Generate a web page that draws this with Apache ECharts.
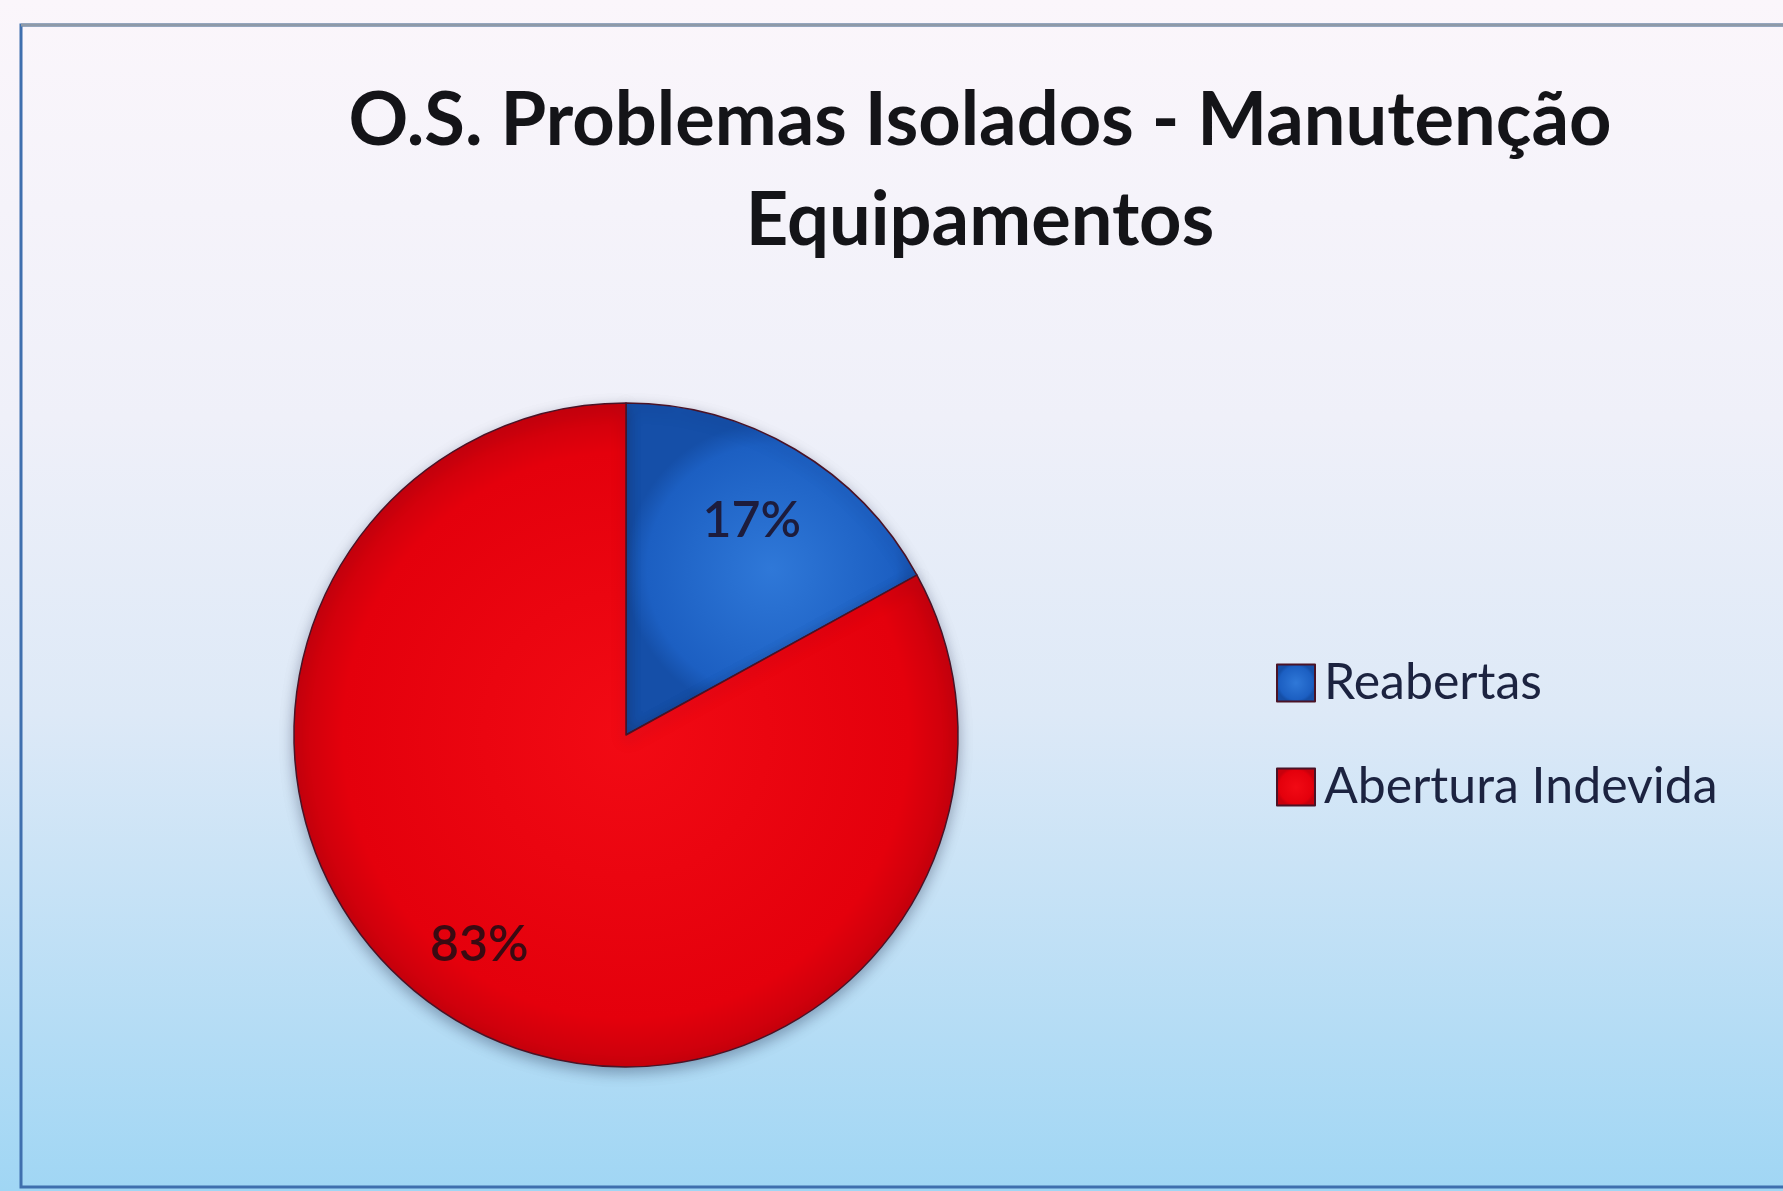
<!DOCTYPE html>
<html lang="pt">
<head>
    <meta charset="utf-8">
    <title>O.S. Problemas Isolados - Manutenção Equipamentos</title>
    <script src="https://cdn.jsdelivr.net/npm/echarts@6/dist/echarts.min.js"></script>
    <style>
        html, body { margin: 0; padding: 0; background: #f6f4f9; }
        #grafico { width: 1783px; height: 1191px; }
    </style>
</head>
<body>
    <div id="grafico"></div>
    <script>
    // dados do gráfico
    var categorias = ['Reabertas', 'Abertura Indevida'];
    var valores = [17, 83];
    var cores = [
        ['#2f78d8', '#1c5fc2', '#154fa8'],
        ['#f20a14', '#e4000c', '#c8000c']
    ];
    var coresRotulos = ['#1d1c3c', '#3a0a12'];

    var myChart = echarts.init(document.getElementById('grafico'));

    var dadosPizza = categorias.map(function (nome, i) {
        return {
            name: nome,
            value: valores[i],
            itemStyle: {
                color: new echarts.graphic.RadialGradient(0.5, 0.5, 0.5, [
                    { offset: 0, color: cores[i][0] },
                    { offset: 0.85, color: cores[i][1] },
                    { offset: 1, color: cores[i][2] }
                ], false)
            }
        };
    });

    // anel invisível só para posicionar os rótulos mais perto da borda
    var dadosRotulos = categorias.map(function (nome, i) {
        return { name: nome, value: valores[i], label: { color: coresRotulos[i] } };
    });

    var option = {
        backgroundColor: {
            type: 'linear', x: 0, y: 0, x2: 0, y2: 1,
            colorStops: [
                { offset: 0, color: '#fbf6fb' },
                { offset: 0.35, color: '#eff0f9' },
                { offset: 0.6, color: '#dde9f7' },
                { offset: 1, color: '#a0d6f4' }
            ]
        },
        animation: false,
        title: {
            text: 'O.S. Problemas Isolados - Manutenção\nEquipamentos',
            left: 980,
            top: 71,
            textAlign: 'center',
            padding: 0,
            textStyle: {
                fontFamily: 'Lato',
                fontWeight: 'bold',
                fontSize: 74,
                lineHeight: 100,
                color: '#141418'
            }
        },
        legend: {
            orient: 'vertical',
            left: 1271,
            top: 653,
            icon: 'rect',
            itemWidth: 38,
            itemHeight: 37,
            itemGap: 54,
            data: categorias,
            textStyle: {
                fontFamily: 'Lato',
                fontSize: 50,
                lineHeight: 50,
                color: '#1c2340',
                padding: [0, 0, 0, 4]
            }
        },
        graphic: [
            {
                type: 'rect',
                silent: true,
                shape: { x: 21, y: 25, width: 1790, height: 1162 },
                style: { fill: 'none', stroke: '#3f6fae', lineWidth: 3 }
            },
            {
                type: 'line',
                silent: true,
                shape: { x1: 21, y1: 25, x2: 1783, y2: 25 },
                style: { stroke: '#8e9aa8', lineWidth: 3 }
            }
        ],
        series: [
            {
                name: 'O.S.',
                type: 'pie',
                center: [626, 735],
                radius: 332,
                startAngle: 90,
                clockwise: true,
                silent: true,
                label: { show: false },
                labelLine: { show: false },
                itemStyle: {
                    borderColor: '#4a1326',
                    borderWidth: 1.5,
                    shadowBlur: 14,
                    shadowOffsetY: 5,
                    shadowColor: 'rgba(20, 30, 60, 0.35)'
                },
                data: dadosPizza
            },
            {
                name: 'rotulos',
                type: 'pie',
                center: [626, 735],
                radius: [172, 332],
                startAngle: 90,
                clockwise: true,
                silent: true,
                itemStyle: { color: 'rgba(0,0,0,0)', borderWidth: 0 },
                label: {
                    show: true,
                    position: 'inside',
                    formatter: '{d}%',
                    fontFamily: 'Lato',
                    fontWeight: 600,
                    fontSize: 50
                },
                // o Excel desloca um pouco o rótulo da fatia grande
                labelLayout: function (params) {
                    if (params.dataIndex === 1) {
                        return { dx: -17, dy: -10 };
                    }
                    return { dx: -4, dy: 5 };
                },
                labelLine: { show: false },
                data: dadosRotulos
            }
        ]
    };

    myChart.setOption(option);
    </script>
</body>
</html>
